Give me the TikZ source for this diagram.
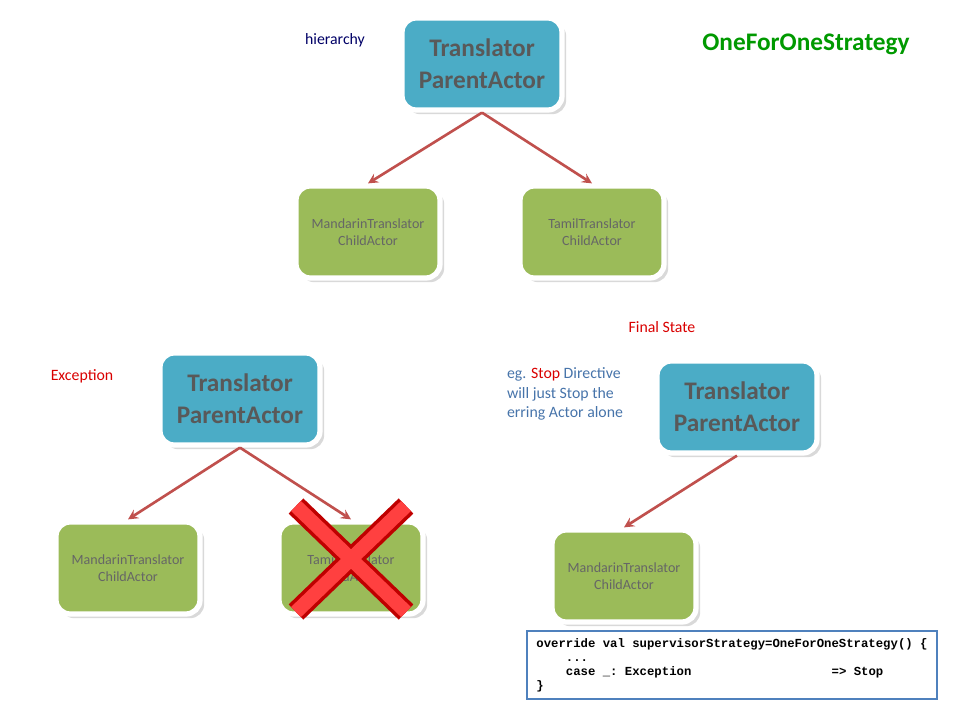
\documentclass[tikz,border=0pt]{standalone}
\usepackage{fontspec}
\setmainfont{Carlito}
\setmonofont{Liberation Mono}
\usetikzlibrary{arrows}
\definecolor{parentblue}{RGB}{75,172,198}
\definecolor{childgreen}{RGB}{155,187,89}
\definecolor{arrowred}{RGB}{192,80,77}
\definecolor{codeblue}{RGB}{79,129,189}
\tikzstyle{parent} = [rectangle, rounded corners=8pt, fill=parentblue, draw=white, line width=3pt, minimum width=3.2cm, minimum height=1.84cm, text=black!65, font=\Large\bfseries, align=center, drop shadow={opacity=0.3}]
\tikzstyle{child} = [rectangle, rounded corners=8pt, fill=childgreen, draw=white, line width=3pt, minimum width=2.88cm, minimum height=1.84cm, text=black!60, font=\footnotesize, align=center, drop shadow={opacity=0.3}]
\tikzstyle{arrow} = [line width=1.5pt, arrowred, ->, >=stealth]
\usetikzlibrary{shadows}
\begin{document}
\begin{tikzpicture}[x=0.02cm, y=-0.02cm]
            \useasboundingbox (0,0) rectangle (960,720);
            \node (par1) [parent] at (482,64) {Translator\\ParentActor};
            \node (mand1) [child] at (368,232) {MandarinTranslator\\ChildActor};
            \node (tamil1) [child] at (592,232) {TamilTranslator\\ChildActor};
            \node (par2) [parent] at (240,399) {Translator\\ParentActor};
            \node (mand2) [child] at (128,568) {MandarinTranslator\\ChildActor};
            \node (tamil2) [child] at (351,568) {TamilTranslator\\ChildActor};
            \node (par3) [parent] at (737,407) {Translator\\ParentActor};
            \node (mand3) [child] at (624,576) {MandarinTranslator\\ChildActor};
            
            \node (hier) [text=blue!40!black, font=\small] at (335,40) {hierarchy};
            \node (strat) [text=green!60!black, font=\Large\bfseries] at (806,44) {OneForOneStrategy};
            \node (final) [text=red!85!black, font=\small] at (662,327) {Final State};
            \node (exc) [text=red!85!black, font=\small] at (82,376) {Exception};
            \node (eg) [text=codeblue!90!black, font=\small, align=left] at (565,394) {eg. \textcolor{red!85!black}{Stop} Directive\\will just Stop the\\erring Actor alone};
            \node (code) [draw=codeblue, line width=1.5pt, minimum width=8.2cm, minimum height=1.32cm, font=\ttfamily\bfseries\scriptsize, align=left, inner sep=4pt] at (732,665)
                {override val supervisorStrategy=OneForOneStrategy() \{\\
                 \ \ \ \ ...\\
                 \ \ \ \ case \_: Exception \ \ \ \ \ \ \ \ \ \ \ \ \ \ \ \ \ \ => Stop\\
                 \}\hspace*{5.6cm}};
            
            \draw [arrow] (par1.south) -- (mand1.north);
            \draw [arrow] (par1.south) -- (tamil1.north);
            \draw [arrow] (par2.south) -- (mand2.north);
            \draw [arrow] (par2.south) -- (tamil2.north);
            \draw [arrow] (par3.south) -- (mand3.north);
            
            \draw [line width=12pt, red!75!black] (tamil2.center) ++(-55,-62) -- ++(110,106)
                  (tamil2.center) ++(55,-62) -- ++(-110,106);
            \draw [line width=8pt, red!75!white] (tamil2.center) ++(-55,-62) -- ++(110,106)
                  (tamil2.center) ++(55,-62) -- ++(-110,106);
        \end{tikzpicture}
\end{document}
